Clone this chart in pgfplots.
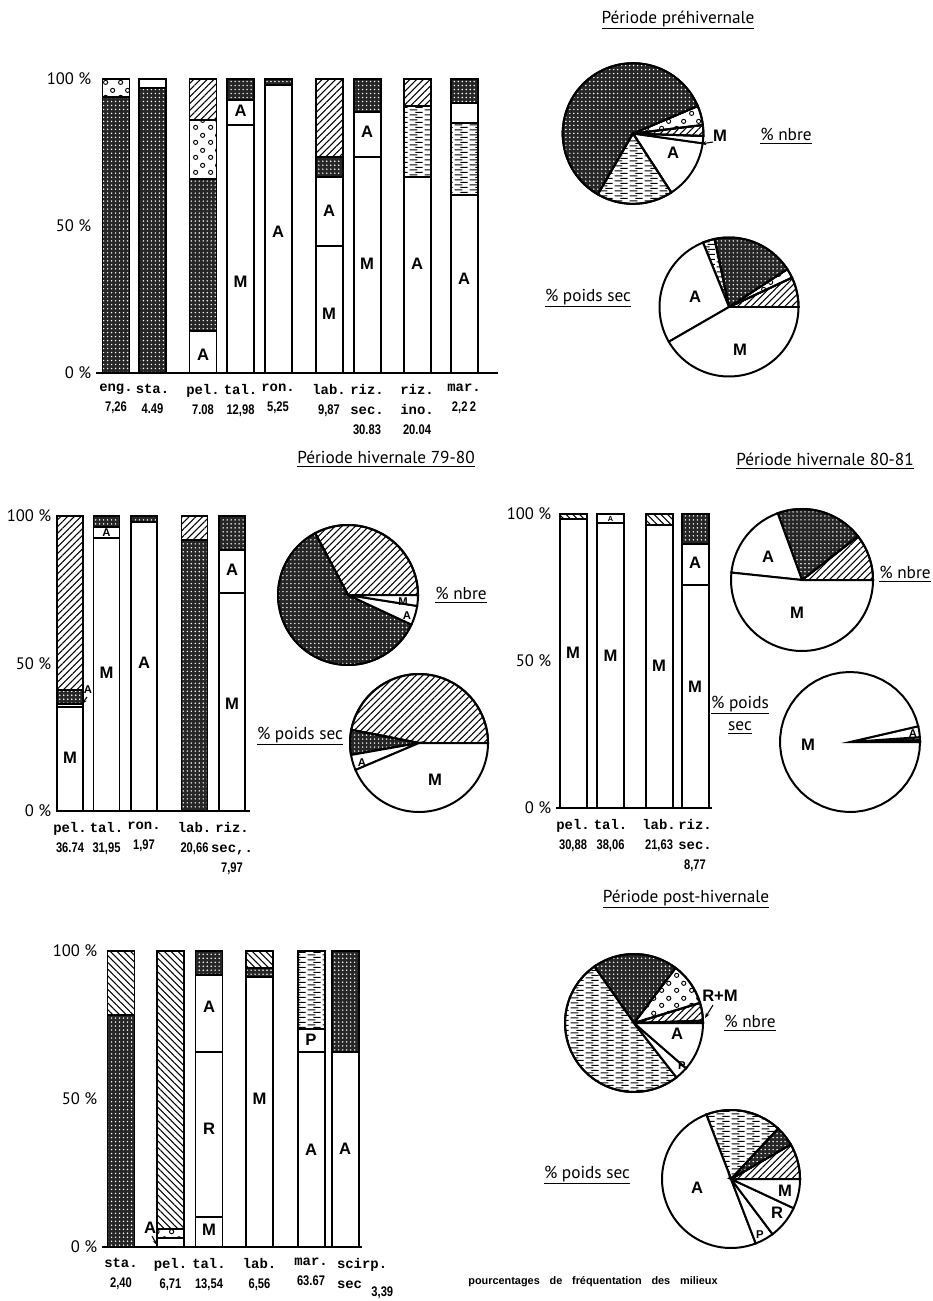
\documentclass[border=0pt]{standalone}
\usepackage{fontspec}
\setmainfont{Liberation Sans}
\newfontfamily\monof{Liberation Mono}
\newfontfamily\ptf{PT Sans}
\newfontfamily\numf[FakeStretch=0.8]{Liberation Sans}
\usepackage{pgfplots}
\usepackage{pgfplotstable}
\pgfplotsset{compat=1.18}
\usetikzlibrary{patterns,patterns.meta,arrows.meta}

\tikzdeclarepattern{
  name=circ, type=uncolored,
  bounding box={(0pt,0pt) and (11pt,11pt)},
  tile size={(11pt,11pt)},
  code={\draw[line width=0.7pt] (2.8pt,2.8pt) circle (1.6pt);
        \draw[line width=0.7pt] (8.2pt,8.2pt) circle (1.6pt);}
}
\tikzdeclarepattern{
  name=grass, type=uncolored,
  bounding box={(0pt,0pt) and (11pt,4pt)},
  tile size={(11pt,4pt)},
  code={\draw[line width=0.8pt] (0.5pt,1pt) -- (6.5pt,1pt);
        \draw[line width=0.8pt] (5pt,3pt) -- (10.5pt,3pt);}
}

\tikzset{
  W/.style={draw=black, line width=1.5pt, fill=white},
  S/.style={draw=black, line width=1.5pt, preaction={fill=black!85},
    pattern={Dots[distance=3pt,radius=0.6pt]}, pattern color=white},
  H/.style={draw=black, line width=1.5pt, preaction={fill=white},
    pattern={Lines[angle=45,distance=3.6pt,line width=0.8pt]}, pattern color=black},
  HN/.style={draw=black, line width=1.5pt, preaction={fill=white},
    pattern={Lines[angle=-45,distance=3.6pt,line width=0.8pt]}, pattern color=black},
  C/.style={draw=black, line width=1.5pt, preaction={fill=white}, pattern=circ, pattern color=black},
  G/.style={draw=black, line width=1.5pt, preaction={fill=white}, pattern=grass, pattern color=black},
  lt/.style={font=\bfseries\fontsize{12.5}{14}\selectfont, inner sep=0pt},
  ls/.style={font=\bfseries\fontsize{8.5}{9}\selectfont, inner sep=0pt},
  tt/.style={font=\ptf\fontsize{13}{15}\selectfont},
  ar/.style={-{Stealth[length=4pt,width=3pt]}, line width=0.8pt},
}
\newcommand\nm[1]{{\numf\bfseries #1}}
\newcommand\pw[3]{\addplot[#3, domain=#1:#2, samples=50] ({cos(x)},{sin(x)}) -- (axis cs:0,0) -- cycle;}

\pgfplotsset{
  barax/.style={scale only axis, anchor=south west, ybar stacked, bar width=27,
    ymin=0, ymax=100, enlargelimits=false, clip=false,
    axis x line*=bottom, axis y line*=left,
    y axis line style={draw=none},
    x axis line style={-, line width=1.5pt},
    every outer x axis line/.append style={-},
    ytick={0,50,100}, yticklabels={0 \%,50 \%,100 \%},
    major tick length=0pt, tick style={draw=none},
    yticklabel style={font=\ptf\fontsize{12.5}{14}\selectfont},
    xticklabel style={align=center, anchor=north, yshift=-5bp,
      font=\monof\bfseries\fontsize{10.5}{15}\selectfont}},
  pie/.style={anchor=center, scale only axis, xmin=-1, xmax=1, ymin=-1, ymax=1,
    hide axis, clip=false},
}

% Periode prehivernale: bar segments (percent), stacked bottom to top
\pgfplotstableread{
x     W1   W2   G    W3  S    W4  C    H
116   0    0    0    0   93.8 0   6.2  0
152.5 0    0    0    0   96.8 3.2 0    0
203   14.2 0    0    0   51.7 0   20.2 13.9
240.5 84.4 8.5  0    0   7.1  0   0    0
278   98   0    0    0   2    0   0    0
329   43.3 23.3 0    0   6.8  0   0    26.6
367   73.3 15.6 0    0   11.1 0   0    0
417   66.6 0    24.3 0   0    0   0    9.1
464   60.6 0    24.3 6.8 8.3  0   0    0
}\tabA
% Periode hivernale 79-80
\pgfplotstableread{
x     W1   W2   S    H
70    35.3 1.1  4.5  59.1
106.5 92.4 3.8  3.8  0
144   98.1 0    1.9  0
194.5 0    0    91.9 8.1
232   73.8 14.7 11.5 0
}\tabB
% Periode hivernale 80-81
\pgfplotstableread{
x     W1   W2   S    H
573   98.2 0    0    1.8
610.5 97   3    0    0
659   96.3 0    0    3.7
695   75.9 13.9 10.2 0
}\tabC
% Periode post-hivernale
\pgfplotstableread{
x     W1   W2   W3   C  G    S    H
121   0    0    0    0  0    78.3 21.7
170.5 3    0    0    3  0    0    94
209   10.1 55.8 25.9 0  0    8.2  0
259.5 91.2 0    0    0  0    3.2  5.6
311   65.9 7.9  0    0  26.2 0    0
345   65.9 0    0    0  0    34.1 0
}\tabD

\begin{document}
\begin{tikzpicture}[x=0.75bp,y=-0.75bp]
\path[use as bounding box] (0,0) rectangle (932,1301);

%================ Chart 1
\begin{axis}[barax, at={(96*0.75bp,-373*0.75bp)}, width=301.5bp, height=220.5bp,
  xmin=96, xmax=498,
  xtick={116,152.5,203,240.5,278,329,367,417,464},
  xticklabels={{eng.\\\nm{7,26}},{sta.\\\nm{4.49}},{pel.\\\nm{7.08}},{tal.\\\nm{12,98}},
    {ron.\\\nm{5,25}},{lab.\\\nm{9,87}},{riz.\\sec.\\\nm{30.83}},{riz.\\ino.\\\nm{20.04}},
    {mar.\\\nm{2,2\,2}}}]
\addplot[W] table[x=x,y=W1]{\tabA};
\addplot[W] table[x=x,y=W2]{\tabA};
\addplot[G] table[x=x,y=G]{\tabA};
\addplot[W] table[x=x,y=W3]{\tabA};
\addplot[S] table[x=x,y=S]{\tabA};
\addplot[W] table[x=x,y=W4]{\tabA};
\addplot[C] table[x=x,y=C]{\tabA};
\addplot[H] table[x=x,y=H]{\tabA};
\end{axis}

%================ Chart 2
\begin{axis}[barax, bar width=26, at={(56*0.75bp,-811*0.75bp)}, width=145.5bp, height=221.25bp,
  xmin=56, xmax=250,
  xtick={70,106.5,144,194.5,232},
  xticklabels={{pel.\\\nm{36.74}},{tal.\\\nm{31,95}},{ron.\\\nm{1,97}},{lab.\\\nm{20,66}},
    {riz.\\sec,.\\\nm{7,97}}}]
\addplot[W] table[x=x,y=W1]{\tabB};
\addplot[W] table[x=x,y=W2]{\tabB};
\addplot[S] table[x=x,y=S]{\tabB};
\addplot[H] table[x=x,y=H]{\tabB};
\end{axis}

%================ Chart 3
\begin{axis}[barax, at={(556*0.75bp,-808*0.75bp)}, width=117bp, height=220.5bp,
  xmin=556, xmax=712,
  xtick={573,610.5,659,695},
  xticklabels={{pel.\\\nm{30,88}},{tal.\\\nm{38,06}},{lab.\\\nm{21,63}},{riz.\\sec.\\\nm{8,77}}}]
\addplot[W] table[x=x,y=W1]{\tabC};
\addplot[W] table[x=x,y=W2]{\tabC};
\addplot[S] table[x=x,y=S]{\tabC};
\addplot[HN] table[x=x,y=H]{\tabC};
\end{axis}

%================ Chart 4
\begin{axis}[barax, at={(102*0.75bp,-1247*0.75bp)}, width=195bp, height=222bp,
  xmin=102, xmax=362,
  xtick={121,170.5,209,259.5,311,345},
  xticklabels={{sta.\\\nm{2,40}},{pel.\\\nm{6,71}},{tal.\\\nm{13,54}},{lab.\\\nm{6,56}},
    {mar.\\\nm{63.67}},
    {\makebox[0pt][l]{\hspace*{-6bp}scirp.}\\\makebox[0pt][l]{\hspace*{-6bp}sec\hspace{7bp}\raisebox{-6bp}{\nm{3,39}}}}}]
\addplot[W] table[x=x,y=W1]{\tabD};
\addplot[W] table[x=x,y=W2]{\tabD};
\addplot[W] table[x=x,y=W3]{\tabD};
\addplot[C] table[x=x,y=C]{\tabD};
\addplot[G] table[x=x,y=G]{\tabD};
\addplot[S] table[x=x,y=S]{\tabD};
\addplot[HN] table[x=x,y=H]{\tabD};
\end{axis}

%================ Pies
% prehivernale, % nbre
\begin{axis}[pie, at={(633*0.75bp,-133.5*0.75bp)}, width=105.5bp, height=105.5bp]
\pw{-57}{-8}{W}
\pw{-8}{-2}{W}
\pw{-2}{7}{H}
\pw{7}{23}{C}
\pw{23}{240}{S}
\pw{240}{303}{G}
\end{axis}
% prehivernale, % poids sec
\begin{axis}[pie, at={(729*0.75bp,-307*0.75bp)}, width=104.25bp, height=104.25bp]
\pw{0}{25}{H}
\pw{25}{33}{C}
\pw{33}{102}{S}
\pw{102}{112}{G}
\pw{112}{210}{W}
\pw{210}{360}{W}
\end{axis}
% hivernale 79-80, % nbre
\begin{axis}[pie, at={(348*0.75bp,-595*0.75bp)}, width=105bp, height=105bp]
\pw{0}{118}{H}
\pw{118}{335}{S}
\pw{335}{351}{W}
\pw{351}{360}{W}
\end{axis}
% hivernale 79-80, % poids sec
\begin{axis}[pie, at={(419*0.75bp,-743*0.75bp)}, width=103.5bp, height=103.5bp]
\pw{0}{169}{H}
\pw{169}{190}{S}
\pw{190}{203}{W}
\pw{203}{360}{W}
\end{axis}
% hivernale 80-81, % nbre
\begin{axis}[pie, at={(802*0.75bp,-580*0.75bp)}, width=106.5bp, height=106.5bp]
\pw{0}{38}{H}
\pw{38}{110}{S}
\pw{110}{174}{W}
\pw{174}{360}{W}
\end{axis}
% hivernale 80-81, % poids sec
\begin{axis}[pie, at={(850*0.75bp,-742*0.75bp)}, width=105bp, height=105bp]
\pw{0}{1.5}{S}
\pw{1.5}{4}{H}
\pw{4}{13}{W}
\pw{13}{360}{W}
\end{axis}
% post-hivernale, % nbre
\begin{axis}[pie, at={(634*0.75bp,-1023*0.75bp)}, width=103.5bp, height=103.5bp]
\pw{0}{2}{W}
\pw{2}{17}{H}
\pw{17}{53}{C}
\pw{53}{125}{S}
\pw{125}{308}{G}
\pw{308}{319}{W}
\pw{319}{360}{W}
\end{axis}
% post-hivernale, % poids sec
\begin{axis}[pie, at={(731*0.75bp,-1179*0.75bp)}, width=103.5bp, height=103.5bp]
\pw{0}{30}{H}
\pw{30}{47}{S}
\pw{47}{111}{G}
\pw{111}{291}{W}
\pw{291}{307}{W}
\pw{307}{335}{W}
\pw{335}{360}{W}
\end{axis}

%================ Bar letters (pixel positions)
% chart 1
\node[lt] at (203,355) {A};
\node[lt] at (240.5,282) {M};
\node[lt] at (240.5,111) {A};
\node[lt] at (278,232) {A};
\node[lt] at (329,314) {M};
\node[lt] at (329,211) {A};
\node[lt] at (367,264) {M};
\node[lt] at (367,132) {A};
\node[lt] at (417,264) {A};
\node[lt] at (464,279) {A};
% chart 2
\node[lt] at (70,758) {M};
\node[lt] at (106.5,673) {M};
\node[ls] at (106.5,533) {A};
\node[lt] at (144,663) {A};
\node[lt] at (232,704) {M};
\node[lt] at (232,570) {A};
\node[ls] at (88,690) {A};
\draw[ar] (87,697) -- (82,704);
% chart 3
\node[lt] at (573,653) {M};
\node[lt] at (610.5,656) {M};
\node[font=\bfseries\fontsize{5.5}{6}\selectfont, inner sep=0pt] at (610.5,519) {A};
\node[lt] at (659,666) {M};
\node[lt] at (695,687) {M};
\node[lt] at (695,563) {A};
% chart 4
\node[lt] at (209,1230) {M};
\node[lt] at (209,1129) {R};
\node[lt] at (209,1007) {A};
\node[lt] at (259.5,1099) {M};
\node[lt] at (311,1150) {A};
\node[lt] at (311,1040) {P};
\node[lt] at (345,1149) {A};
\node[lt] at (150,1228) {A};
\draw[ar] (152,1236) -- (157,1245);

%================ Pie letters and arrows
\node[lt] at (673,153) {A};
\node[lt] at (720,136) {M};
\draw[ar] (713,142) -- (701,144);
\node[lt] at (695,297) {A};
\node[lt] at (740,350) {M};
\node[ls] at (403,602) {M};
\node[ls] at (407,616) {A};
\node[ls] at (362,763) {A};
\node[lt] at (435,780) {M};
\node[lt] at (768,557) {A};
\node[lt] at (797,613) {M};
\node[lt] at (808,745) {M};
\node[ls] at (913,734) {A};
\node[lt] at (677,1034) {A};
\node[ls] at (682,1066) {P};
\node[lt] at (720,996) {R+M};
\draw[ar] (713,1005) -- (705,1018);
\node[lt] at (697,1188) {A};
\node[lt] at (785,1191) {M};
\node[lt] at (777,1213) {R};
\node[ls] at (760,1235) {P};

%================ Titles and captions
\node[tt] at (678,20) {\underline{Période préhivernale}};
\node[tt] at (786,136) {\underline{\% nbre}};
\node[tt] at (588,298) {\underline{\% poids sec}};
\node[tt] at (386,459) {\underline{Période hivernale 79-80}};
\node[tt] at (461,595) {\underline{\% nbre}};
\node[tt] at (300,736) {\underline{\% poids sec}};
\node[tt] at (825,461) {\underline{Période hivernale 80-81}};
\node[tt] at (905,574) {\underline{\% nbre}};
\node[tt] at (740,705) {\underline{\% poids}};
\node[tt] at (740,728) {\underline{sec}};
\node[tt] at (686,899) {\underline{Période post-hivernale}};
\node[tt] at (750,1023) {\underline{\% nbre}};
\node[tt] at (587,1175) {\underline{\% poids sec}};
\node[font=\bfseries\fontsize{8.2}{10}\selectfont] at (593,1282)
  {pourcentages\hspace{0.9em}de\hspace{0.9em}fréquentation\hspace{0.9em}des\hspace{0.9em}milieux};
\end{tikzpicture}
\end{document}
